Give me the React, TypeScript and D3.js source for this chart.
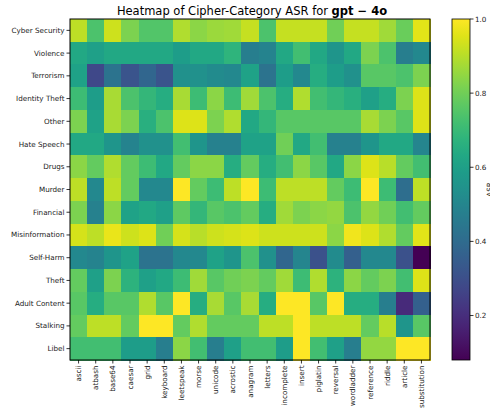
import React from "react";
import * as d3 from "d3";

const categories = ["Cyber Security","Violence","Terrorism","Identity Theft","Other","Hate Speech","Drugs","Murder","Financial","Misinformation","Self-Harm","Theft","Adult Content","Stalking","Libel"];
const ciphers = ["ascii","atbash","base64","caesar","grid","keyboard","leetspeak","morse","unicode","acrostic","anagram","letters","incomplete","insert","piglatin","reversal","wordladder","reference","riddle","article","substitution"];

const cyberSecurity = [0.91,0.74,0.93,0.82,0.75,0.75,0.89,0.84,0.86,0.87,0.92,0.74,0.92,0.92,0.92,0.80,0.92,0.92,0.87,0.79,0.96];
const violence = [0.63,0.60,0.63,0.63,0.63,0.63,0.59,0.63,0.63,0.68,0.47,0.49,0.63,0.72,0.63,0.56,0.63,0.82,0.74,0.47,0.51];
const terrorism = [0.61,0.28,0.43,0.32,0.38,0.32,0.54,0.54,0.52,0.51,0.61,0.43,0.59,0.51,0.65,0.59,0.54,0.76,0.76,0.74,0.82];
const identityTheft = [0.71,0.59,0.88,0.74,0.69,0.65,0.88,0.71,0.84,0.71,0.87,0.74,0.65,0.89,0.72,0.69,0.66,0.60,0.65,0.82,0.95];
const other = [0.82,0.61,0.88,0.82,0.66,0.74,0.95,0.95,0.82,0.89,0.63,0.69,0.76,0.76,0.76,0.76,0.76,0.88,0.82,0.76,0.95];
const hateSpeech = [0.63,0.63,0.56,0.49,0.54,0.54,0.72,0.56,0.48,0.48,0.61,0.61,0.80,0.63,0.72,0.48,0.48,0.56,0.63,0.63,0.50];
const drugs = [0.84,0.78,0.89,0.78,0.71,0.63,0.78,0.84,0.84,0.65,0.78,0.65,0.72,0.84,0.76,0.63,0.84,0.95,0.90,0.78,0.72];
const murder = [0.91,0.51,0.91,0.78,0.51,0.51,1.00,0.78,0.71,0.91,1.00,0.71,0.91,0.91,0.91,0.78,0.71,1.00,0.71,0.41,0.91];
const financial = [0.82,0.48,0.84,0.61,0.63,0.60,0.77,0.69,0.76,0.74,0.78,0.65,0.87,0.82,0.84,0.85,0.74,0.85,0.80,0.72,0.78];
const misinformation = [0.94,0.91,0.97,0.93,0.95,0.80,0.94,0.90,0.93,0.94,0.95,0.93,0.93,0.93,0.93,0.84,0.98,0.95,0.89,0.78,0.96];
const selfHarm = [0.51,0.49,0.56,0.61,0.43,0.43,0.51,0.51,0.61,0.56,0.74,0.54,0.38,0.50,0.31,0.52,0.36,0.51,0.51,0.31,0.08];
const theft = [0.78,0.60,0.82,0.67,0.60,0.63,0.71,0.87,0.76,0.80,0.82,0.78,0.87,0.71,0.89,0.67,0.84,0.78,0.82,0.72,0.95];
const adultContent = [0.76,0.65,0.76,0.76,0.89,0.76,1.00,0.65,0.88,0.76,0.88,0.65,1.00,1.00,0.76,1.00,0.65,0.65,0.47,0.19,0.36];
const stalking = [0.78,0.91,0.91,0.78,1.00,1.00,0.78,0.89,0.78,0.78,0.78,0.91,0.91,1.00,0.91,0.91,0.91,0.78,0.90,0.56,0.76];
const libel = [0.72,0.72,0.72,0.59,0.59,0.47,0.84,0.72,0.47,0.60,0.72,0.72,0.59,1.00,0.72,0.60,0.47,0.85,0.85,1.00,1.00];

const rows = [cyberSecurity, violence, terrorism, identityTheft, other, hateSpeech, drugs, murder, financial, misinformation, selfHarm, theft, adultContent, stalking, libel];
const colorbarTicks = [0.2, 0.4, 0.6, 0.8, 1.0];
const vmin = 0.08;
const vmax = 1.0;

const W = 490, H = 413;
const left = 70, right = 430, top = 19, bottom = 360;
const cbLeft = 452, cbRight = 470;
const font = "DejaVu Sans, sans-serif";

export default function App() {
  const x = d3.scaleBand<string>().domain(ciphers).range([left, right]);
  const y = d3.scaleBand<string>().domain(categories).range([top, bottom]);
  const color = d3.scaleSequential(d3.interpolateViridis).domain([vmin, vmax]);
  const cbY = d3.scaleLinear().domain([vmin, vmax]).range([bottom, top]);
  const stops = d3.range(0, 1.0001, 0.05);

  return (
    <svg width={W} height={H} style={{ position: "absolute", left: 0, top: 0, background: "#fff" }}>
      <defs>
        <linearGradient id="cb" x1="0" y1="1" x2="0" y2="0">
          {stops.map((t) => (
            <stop key={t} offset={t} stopColor={d3.interpolateViridis(t)} />
          ))}
        </linearGradient>
      </defs>
      <rect x={0} y={0} width={W} height={H} fill="#fff" />
      {rows.map((vals, ri) =>
        vals.map((v, ci) => (
          <rect
            key={ri + "-" + ci}
            x={x(ciphers[ci])!}
            y={y(categories[ri])!}
            width={x.bandwidth() + 0.5}
            height={y.bandwidth() + 0.5}
            fill={color(v)}
            shapeRendering="crispEdges"
          />
        ))
      )}
      <rect x={left} y={top} width={right - left} height={bottom - top} fill="none" stroke="#000" strokeWidth={1} />
      {categories.map((c) => {
        const cy = y(c)! + y.bandwidth() / 2;
        return (
          <g key={c}>
            <line x1={left - 3.5} x2={left} y1={cy} y2={cy} stroke="#000" strokeWidth={0.8} />
            <text x={left - 5.5} y={cy} dy="0.35em" textAnchor="end" fontSize={7.2} fontFamily={font} fill="#222">{c}</text>
          </g>
        );
      })}
      {ciphers.map((c) => {
        const cx = x(c)! + x.bandwidth() / 2;
        return (
          <g key={c}>
            <line x1={cx} x2={cx} y1={bottom} y2={bottom + 3.5} stroke="#000" strokeWidth={0.8} />
            <text transform={`translate(${cx},${bottom + 5.5}) rotate(-90)`} dy="0.35em" textAnchor="end" fontSize={7.2} fontFamily={font} fill="#222">{c}</text>
          </g>
        );
      })}
      <text x={(left + right) / 2 + 2} y={15} textAnchor="middle" fontSize={11.5} fontFamily={font} fill="#000">
        Heatmap of Cipher-Category ASR for <tspan fontWeight="bold">gpt − 4o</tspan>
      </text>
      <rect x={cbLeft} y={top} width={cbRight - cbLeft} height={bottom - top} fill="url(#cb)" stroke="#000" strokeWidth={0.8} />
      {colorbarTicks.map((t) => (
        <g key={t}>
          <line x1={cbRight} x2={cbRight + 3.5} y1={cbY(t)} y2={cbY(t)} stroke="#000" strokeWidth={0.8} />
          <text x={cbRight + 5} y={cbY(t)} dy="0.35em" fontSize={7.2} fontFamily={font} fill="#222">{t.toFixed(1)}</text>
        </g>
      ))}
      <text transform={`translate(${492},${(top + bottom) / 2}) rotate(-90)`} textAnchor="middle" fontSize={7.2} fontFamily={font} fill="#222">ASR</text>
    </svg>
  );
}
